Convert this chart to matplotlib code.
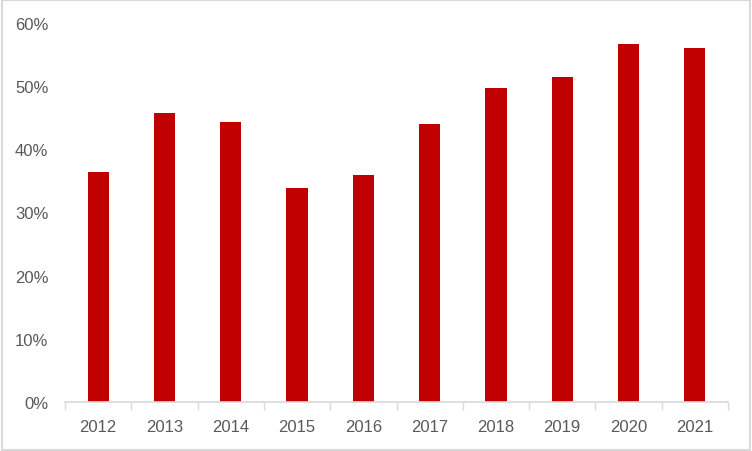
import numpy as np
import matplotlib.pyplot as plt
from matplotlib.ticker import PercentFormatter, FixedLocator, NullFormatter

years = ['2012', '2013', '2014', '2015', '2016', '2017', '2018', '2019', '2020', '2021']
shares = [36.4, 45.7, 44.3, 33.9, 35.9, 44.0, 49.7, 51.4, 56.6, 56.0]

plt.rcParams['font.family'] = ['Liberation Sans', 'DejaVu Sans']

fig = plt.figure(figsize=(7.52, 4.52), dpi=100)
ax = fig.add_axes([65 / 752, 49 / 452, 663 / 752, 379 / 452])

x = np.arange(len(years))
ax.bar(x, shares, width=0.32, color='#C00000')

ax.set_xlim(-0.5, len(years) - 0.5)
ax.set_ylim(0, 60)
ax.yaxis.set_major_formatter(PercentFormatter(decimals=0))
ax.set_yticks(range(0, 61, 10))

# tick marks between categories, labels centred under bars
ax.xaxis.set_major_locator(FixedLocator(np.arange(-0.5, len(years), 1)))
ax.xaxis.set_major_formatter(NullFormatter())
ax.set_xticks(x, minor=True)
ax.set_xticklabels(years, minor=True)
ax.tick_params(axis='x', which='major', length=6, width=1, color='#D9D9D9', direction='out')
ax.tick_params(axis='x', which='minor', length=0, pad=12)
ax.tick_params(axis='y', length=0, pad=12)
ax.tick_params(which='both', labelsize=12, labelcolor='#595959')

for side in ['top', 'right', 'left']:
    ax.spines[side].set_visible(False)
ax.spines['bottom'].set_color('#D9D9D9')
ax.spines['bottom'].set_linewidth(1.2)

# light border round the chart area
fig.patches.append(plt.Rectangle((0.002, 0.003), 0.996, 0.994, transform=fig.transFigure,
                                 fill=False, edgecolor='#D9D9D9', linewidth=1.5))

fig.savefig('out.png', dpi=100)
